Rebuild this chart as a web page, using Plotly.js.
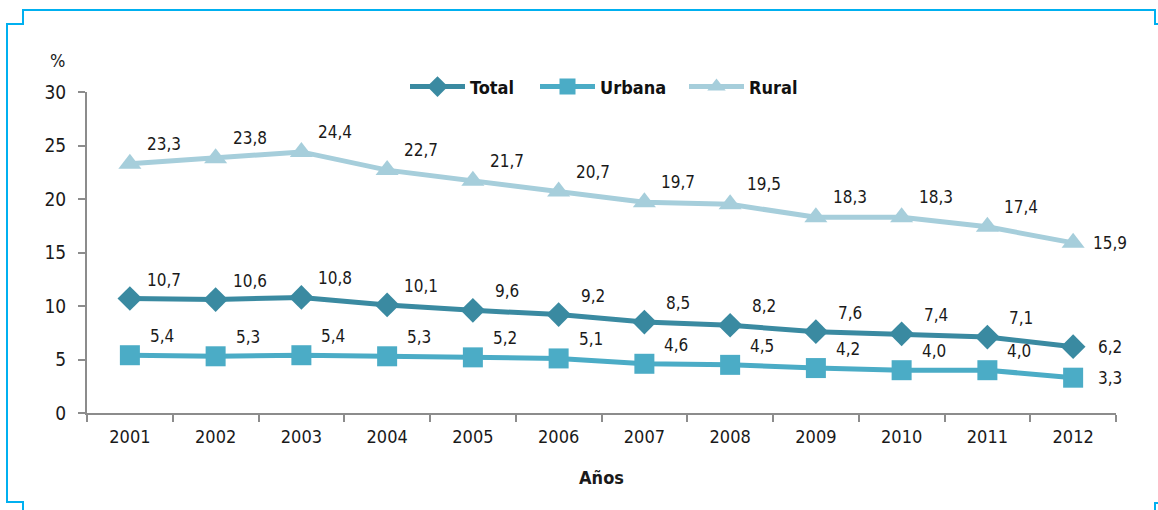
<!DOCTYPE html>
<html>
<head>
<meta charset="utf-8">
<script src="https://cdn.plot.ly/plotly-3.0.1.min.js"></script>
<style>
html,body{margin:0;padding:0;background:#fff;}
#wrap{position:relative;width:1158px;height:510px;}
#chart{position:absolute;left:0;top:0;width:1158px;height:510px;}
#frame{position:absolute;left:0;top:0;pointer-events:none;}
#chart text{font-stretch:condensed !important;}
</style>
</head>
<body>
<div id="wrap">
<svg id="frame" width="1158" height="510">
  <path d="M23,510 V502 H7 V24 H23 V10 H1155 V24 H1158" fill="none" stroke="#00B0F0" stroke-width="2"/>
  <path d="M1158,503 H1155 V510" fill="none" stroke="#00B0F0" stroke-width="2"/>
</svg>
<div id="chart"></div>
</div>
<script>
var years = ['2001','2002','2003','2004','2005','2006','2007','2008','2009','2010','2011','2012'];
var total = [10.7, 10.6, 10.8, 10.1, 9.6, 9.2, 8.5, 8.2, 7.6, 7.4, 7.1, 6.2];
var urbana = [5.4, 5.3, 5.4, 5.3, 5.2, 5.1, 4.6, 4.5, 4.2, 4.0, 4.0, 3.3];
var rural = [23.3, 23.8, 24.4, 22.7, 21.7, 20.7, 19.7, 19.5, 18.3, 18.3, 17.4, 15.9];
var seriesNames = ['Total', 'Urbana', 'Rural'];
var yTicks = [0, 5, 10, 15, 20, 25, 30];

var FONT = '"DejaVu Sans Condensed", "DejaVu Sans", sans-serif';
var colors = {Total: '#3A8AA1', Urbana: '#4BACC6', Rural: '#A6CEDB'};
var symbols = {Total: 'diamond', Urbana: 'square', Rural: 'triangle-up'};
var msize = {Total: 19, Urbana: 20, Rural: 20};
var dataMap = {Total: total, Urbana: urbana, Rural: rural};
var shift = {Total: [34, 19], Urbana: [32, 19], Rural: [34, 20]};
var legendIds = {Total: 'legend', Urbana: 'legend2', Rural: 'legend3'};
var legendX = {Total: 410, Urbana: 540, Rural: 689};

function fmt(v){ return v.toFixed(1).replace('.', ','); }

var traces = seriesNames.map(function(n){
  return {
    type: 'scatter', mode: 'lines+markers', name: '<b>' + n + '</b>',
    x: years, y: dataMap[n], legend: legendIds[n],
    line: {color: colors[n], width: 5},
    marker: {symbol: symbols[n], size: msize[n], color: colors[n]},
    hoverinfo: 'skip'
  };
});

var annotations = [];
seriesNames.forEach(function(n){
  var arr = dataMap[n];
  arr.forEach(function(v, i){
    var last = (i === arr.length - 1);
    annotations.push({
      x: i, y: v, xref: 'x', yref: 'y',
      text: fmt(v), showarrow: false,
      xshift: last ? 37 : shift[n][0],
      yshift: last ? 0 : shift[n][1],
      font: {family: FONT, size: 17, color: '#1a1a1a'}
    });
  });
});
annotations.push({
  x: 0, y: 1, xref: 'paper', yref: 'paper', xanchor: 'center', yanchor: 'middle',
  xshift: -30, yshift: 32,
  text: '%', showarrow: false, font: {family: FONT, size: 18, color: '#1a1a1a'}
});

var plotL = 87, plotW = 1029;
function legendCfg(n){
  return {
    orientation: 'h', x: (legendX[n] - 5 - plotL) / plotW, xanchor: 'left',
    y: 1.016, yanchor: 'middle',
    font: {family: FONT, size: 18, color: '#111'}, bgcolor: 'rgba(0,0,0,0)',
    itemwidth: 55
  };
}

var layout = {
  width: 1158, height: 510,
  margin: {l: 87, r: 42, t: 92, b: 97},
  paper_bgcolor: 'rgba(0,0,0,0)', plot_bgcolor: 'rgba(0,0,0,0)',
  font: {family: FONT, size: 17, color: '#1a1a1a'},
  showlegend: true,
  legend: legendCfg('Total'),
  legend2: legendCfg('Urbana'),
  legend3: legendCfg('Rural'),
  xaxis: {
    type: 'category', range: [-0.5, years.length - 0.5], autorange: false,
    tickson: 'boundaries', ticks: 'outside', ticklen: 7, tickangle: 0,
    tickcolor: '#8c8c8c', tickwidth: 2, ticklabelstandoff: 6,
    showline: true, linecolor: '#8c8c8c', linewidth: 2,
    showgrid: false, zeroline: false,
    tickfont: {family: FONT, size: 18, color: '#1a1a1a'},
    title: {text: '<b>Años</b>', font: {family: FONT, size: 18, color: '#1a1a1a'}, standoff: 26}
  },
  yaxis: {
    range: [0, 30], autorange: false, tickvals: yTicks, ticktext: yTicks.map(String),
    ticks: 'outside', ticklen: 7, tickcolor: '#8c8c8c', tickwidth: 2, ticklabelstandoff: 8,
    showline: true, linecolor: '#8c8c8c', linewidth: 2,
    showgrid: false, zeroline: false,
    tickfont: {family: FONT, size: 19, color: '#1a1a1a'}
  },
  annotations: annotations
};

Plotly.newPlot('chart', traces, layout, {staticPlot: true, displayModeBar: false});
</script>
</body>
</html>
